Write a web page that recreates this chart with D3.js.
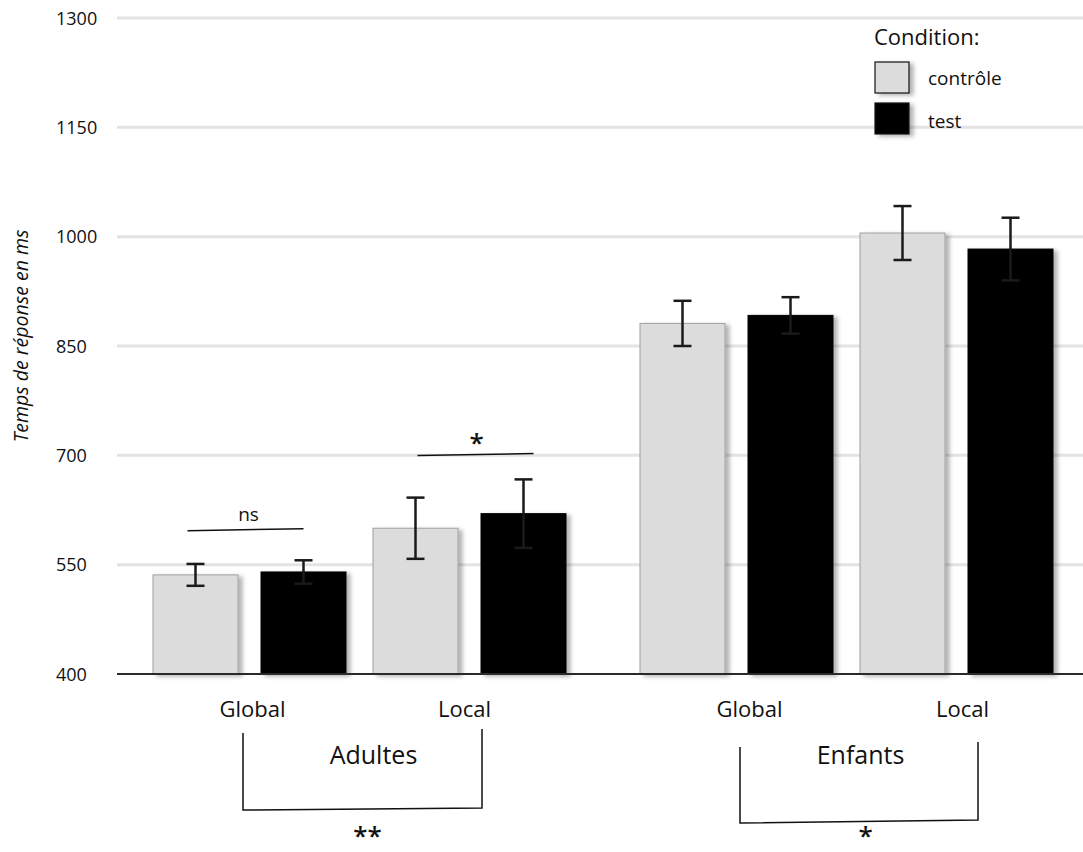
<!DOCTYPE html>
<html><head><meta charset="utf-8">
<script src="https://cdn.jsdelivr.net/npm/d3@7/dist/d3.min.js"></script>
<style>
body{margin:0;background:#fff;}
text{font-family:"Open Sans",sans-serif;fill:#111;}
</style></head>
<body>
<svg id="chart" width="1083" height="852"></svg>
<script>
// ---- data ----
const groups = ["Adultes", "Enfants"];
const levels = ["Global", "Local"];
const conditions = ["contrôle", "test"];
const controleMeans = [536, 600, 881, 1005];
const testMeans = [540, 620, 892, 983];
const controleErr = [15, 42, 31, 37];
const testErr = [16, 47, 25, 43];
const yTicks = [400, 550, 700, 850, 1000, 1150, 1300];
const pairSig = ["ns", "*", "", ""];      // within pair (contrôle vs test)
const pairSigLevel = [598, 701, null, null];
const groupSig = ["**", "*"];             // Global vs Local per group
const yLabel = "Temps de réponse en ms";
const legendTitle = "Condition:";

// ---- build rows ----
const rows = [];
groups.forEach((g, gi) => levels.forEach((l, li) => {
  const k = gi * 2 + li;
  rows.push({group: g, level: l, cond: conditions[0], mean: controleMeans[k], err: controleErr[k], k});
  rows.push({group: g, level: l, cond: conditions[1], mean: testMeans[k], err: testErr[k], k});
}));

const svg = d3.select("#chart");
const defs = svg.append("defs");
const f = defs.append("filter").attr("id", "sh").attr("x", "-20%").attr("y", "-20%").attr("width", "150%").attr("height", "150%");
f.append("feDropShadow").attr("dx", 4).attr("dy", 2).attr("stdDeviation", 2)
  .attr("flood-color", "#000").attr("flood-opacity", 0.3);

const y = d3.scaleLinear().domain([400, 1300]).range([674, 18]);
const x0 = d3.scaleBand().domain(groups).range([153, 1053]).paddingInner(74 / 487);
const x1 = d3.scaleBand().domain(levels).range([0, x0.bandwidth()]).paddingInner(27 / 220);
const x2 = d3.scaleBand().domain(conditions).range([0, x1.bandwidth()]).paddingInner(23 / 108);
const color = d3.scaleOrdinal().domain(conditions).range(["#dcdcdc", "#000000"]);
const strokeC = d3.scaleOrdinal().domain(conditions).range(["#a0a0a0", "#000000"]);

const gridLeft = 117, gridRight = 1083;

// gridlines
const yAxis = d3.axisLeft(y).tickValues(yTicks).tickSize(0).tickFormat(d3.format("d"));
svg.append("g").selectAll("line").data(yTicks.filter(t => t !== 400)).join("line")
  .attr("x1", gridLeft).attr("x2", gridRight)
  .attr("y1", d => y(d)).attr("y2", d => y(d))
  .attr("stroke", "#e3e3e3").attr("stroke-width", 3);

// y tick labels
const ya = svg.append("g").attr("transform", "translate(56,0)").call(yAxis);
ya.select(".domain").remove();
ya.selectAll("text").attr("x", 0).attr("dy", "0.35em").attr("text-anchor", "start")
  .style("font-family", "'Open Sans',sans-serif").style("font-size", "18px").attr("fill", "#111");

// y label
svg.append("text").attr("transform", `translate(28,${y(850) - 10}) rotate(-90)`)
  .attr("text-anchor", "middle").style("font-size", "19.5px").style("font-style", "italic")
  .text(yLabel);

const barX = d => x0(d.group) + x1(d.level) + x2(d.cond);

// bars
svg.append("g").selectAll("rect").data(rows).join("rect")
  .attr("x", barX).attr("width", x2.bandwidth())
  .attr("y", d => y(d.mean)).attr("height", d => y(400) - y(d.mean))
  .attr("fill", d => color(d.cond)).attr("stroke", d => strokeC(d.cond)).attr("stroke-width", 1)
  .attr("filter", "url(#sh)");

// baseline
svg.append("line").attr("x1", gridLeft).attr("x2", gridRight).attr("y1", y(400)).attr("y2", y(400))
  .attr("stroke", "#2a2a2a").attr("stroke-width", 2);

// error bars
const eb = svg.append("g").attr("stroke", "#1a1a1a").attr("stroke-width", 2.5);
rows.forEach(d => {
  const cx = barX(d) + x2.bandwidth() / 2;
  eb.append("line").attr("x1", cx).attr("x2", cx).attr("y1", y(d.mean + d.err)).attr("y2", y(d.mean - d.err));
  [d.mean + d.err, d.mean - d.err].forEach(v =>
    eb.append("line").attr("x1", cx - 9).attr("x2", cx + 9).attr("y1", y(v)).attr("y2", y(v)));
});

// category labels
const nudge = [3, -5, 13, 6];
groups.forEach((g, gi) => levels.forEach((l, li) => {
  const cx = x0(g) + x1(l) + x1.bandwidth() / 2 + nudge[gi * 2 + li];
  svg.append("text").attr("x", cx).attr("y", 717).attr("text-anchor", "middle")
    .style("font-size", "22px").text(l);
}));

// pair significance
pairSig.forEach((s, k) => {
  if (!s) return;
  const g = groups[Math.floor(k / 2)], l = levels[k % 2];
  const cx = x0(g) + x1(l) + x1.bandwidth() / 2 + (k === 0 ? -4 : 6);
  const yy = y(pairSigLevel[k]);
  svg.append("line").attr("x1", cx - 58).attr("x2", cx + 58).attr("y1", yy + 1).attr("y2", yy - 1)
    .attr("stroke", "#111").attr("stroke-width", 1.5);
  if (s === "ns") {
    svg.append("text").attr("x", cx + 3).attr("y", yy - 9).attr("text-anchor", "middle")
      .style("font-size", "19px").text(s);
  } else {
    svg.append("text").attr("x", cx + 1).attr("y", yy - 3).attr("text-anchor", "middle")
      .style("font-size", "26px").style("font-weight", "600").text(s);
  }
});

// group brackets
const brk = [{l: 90, r: 84, top: [733, 729], bot: [810, 808], sigY: 845, txtOff: 14, sigOff: 8},
             {l: 100, r: 75, top: [747, 742], bot: [823, 820], sigY: 845, txtOff: 14, sigOff: 19}];
groups.forEach((g, gi) => {
  const b = brk[gi];
  const xl = x0(g) + b.l, xr = x0(g) + x0.bandwidth() - b.r;
  svg.append("path")
    .attr("d", `M${xl},${b.top[0]} L${xl},${b.bot[0]} L${xr},${b.bot[1]} L${xr},${b.top[1]}`)
    .attr("fill", "none").attr("stroke", "#111").attr("stroke-width", 1.5);
  const gc = x0(g) + x0.bandwidth() / 2;
  svg.append("text").attr("x", gc + b.txtOff).attr("y", 764).attr("text-anchor", "middle")
    .style("font-size", "25px").text(g);
  svg.append("text").attr("x", gc + b.sigOff).attr("y", b.sigY).attr("text-anchor", "middle")
    .style("font-size", "26px").style("font-weight", "600").text(groupSig[gi]);
});

// legend
const lg = svg.append("g");
lg.append("text").attr("x", 874).attr("y", 45).style("font-size", "22px").text(legendTitle);
conditions.forEach((c, i) => {
  lg.append("rect").attr("x", 875).attr("y", 62 + i * 41).attr("width", 34).attr("height", 31)
    .attr("fill", color(c)).attr("stroke", "#111").attr("stroke-width", 1.2).attr("filter", "url(#sh)");
  lg.append("text").attr("x", 928).attr("y", 85 + i * 43).style("font-size", "19px").text(c);
});
</script>
</body></html>
